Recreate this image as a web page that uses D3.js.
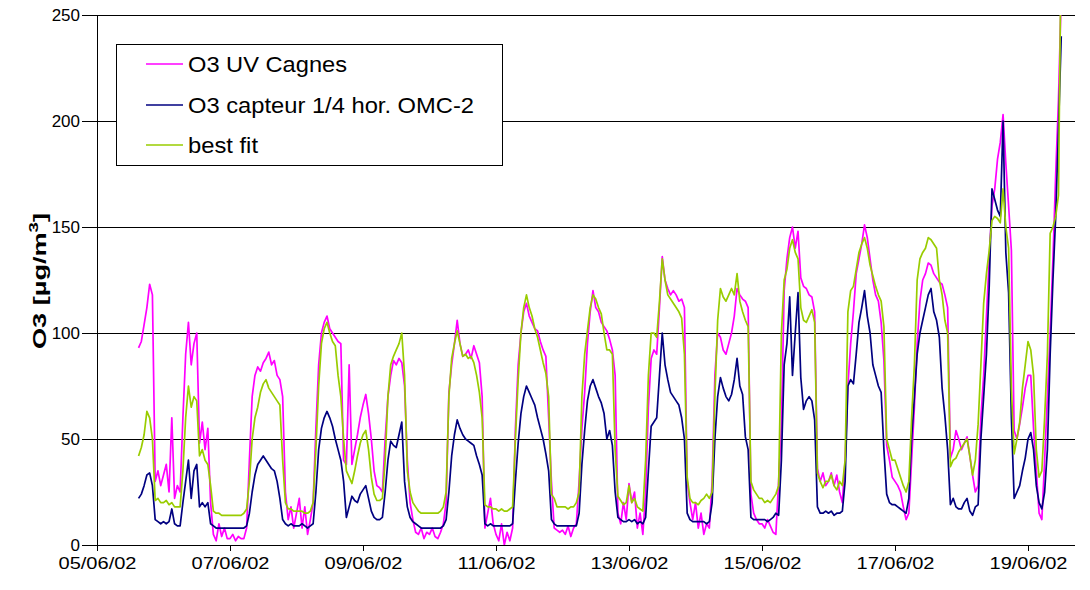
<!DOCTYPE html>
<html><head><meta charset="utf-8">
<script src="https://cdn.jsdelivr.net/npm/d3@7"></script>
<style>
body{margin:0;background:#fff}
svg{display:block}
text{font-family:"Liberation Sans",Arial,sans-serif;fill:#000}
</style>
</head><body><svg id="c" width="1090" height="590"></svg>
<script>
// ---- data (hourly readings, first at 05/06/02 15:00) ----
const startTime = [2002, 5, 5, 15];   // y, m(0-based), d, hour
const stepHours = 1;
const seriesNames = ["O3 UV Cagnes", "O3 capteur 1/4 hor. OMC-2", "best fit"];
const seriesColors = ["#ff00ff", "#000080", "#99cc00"];

const uvCagnes = [
  93, 96, 104, 112, 123, 118, 30, 35, 28,
  33, 38, 25, 60, 22, 28, 25, 60, 90, 105, 85, 95, 100, 48, 58, 45, 55, 20, 5, 2, 10, 4, 8, 3,
  3, 5, 2, 4, 3, 3, 8, 40, 70, 80, 84, 82, 86, 88, 91, 85, 87, 80, 78, 70, 25, 12, 18, 8,
  15, 22, 8, 18, 5, 12, 20, 55, 85, 100, 105, 108, 102, 100, 98, 96, 95, 40, 38, 85, 38, 45, 52, 60,
  66, 71, 62, 50, 35, 28, 27, 25, 50, 70, 80, 87, 85, 88, 86, 75, 40, 20, 12, 6, 5, 8, 3, 6,
  5, 8, 4, 3, 6, 10, 20, 72, 85, 95, 106, 95, 89, 90, 92, 88, 94, 90, 86, 70, 8, 15, 22, 10,
  5, 2, 10, 0, 6, 2, 8, 55, 85, 100, 110, 114, 108, 105, 102, 101, 96, 92, 89, 60, 30, 8, 7, 6,
  7, 5, 9, 4, 8, 10, 30, 55, 72, 95, 110, 120, 112, 110, 105, 103, 101, 97, 92, 80, 15, 10, 20, 12,
  29, 20, 25, 8, 15, 5, 25, 65, 88, 92, 90, 112, 136, 125, 121, 118, 120, 118, 115, 116, 112, 30, 20, 12,
  20, 8, 15, 5, 10, 8, 30, 80, 100, 98, 92, 90, 95, 100, 108, 121, 118, 116, 115, 112, 24, 15, 12, 10,
  10, 8, 12, 9, 6, 5, 30, 56, 120, 135, 145, 150, 140, 148, 126, 122, 121, 118, 117, 110, 36, 30, 34, 28,
  30, 34, 28, 33, 25, 20, 40, 75, 95, 110, 128, 135, 142, 151, 145, 135, 125, 118, 115, 105, 87, 47, 40, 32,
  30, 28, 25, 18, 12, 15, 40, 65, 95, 115, 125, 128, 133, 132, 128, 126, 124, 123, 118, 112, 41, 45, 54, 50,
  45, 48, 51, 42, 33, 25, 28, 60, 80, 108, 135, 160, 168, 182, 190, 203, 180, 160, 139, 54, 50, 57, 65, 74,
  80, 80, 55, 35, 15, 12, 40, 70, 100, 135, 175, 210, 260
];
const capteurOMC2 = [
  22, 24, 28, 33, 34, 28, 12, 11, 10,
  11, 10, 11, 17, 10, 9, 9, 20, 30, 40, 22, 35, 38, 18, 20, 18, 20, 10, 9, 8, 8, 8, 8, 8,
  8, 8, 8, 8, 8, 8, 9, 15, 25, 33, 38, 40, 42, 40, 38, 36, 35, 30, 22, 12, 10, 9, 10, 9,
  9, 9, 10, 9, 8, 9, 10, 25, 45, 55, 60, 63, 60, 56, 50, 45, 40, 30, 13, 18, 23, 21, 20, 24,
  26, 28, 22, 16, 13, 12, 12, 13, 25, 40, 49, 47, 46, 52, 58, 30, 18, 13, 11, 10, 9, 8, 8, 8,
  8, 8, 8, 8, 8, 9, 12, 25, 42, 52, 59, 55, 52, 50, 49, 48, 47, 42, 38, 33, 10, 9, 10, 9,
  9, 9, 9, 9, 9, 9, 10, 30, 48, 62, 70, 75, 72, 69, 66, 60, 55, 50, 43, 35, 12, 10, 9, 9,
  9, 9, 9, 9, 9, 9, 15, 38, 54, 68, 75, 78, 74, 70, 67, 62, 50, 54, 47, 25, 13, 12, 11, 11,
  12, 11, 12, 10, 11, 10, 13, 35, 56, 58, 60, 80, 100, 85, 78, 72, 70, 68, 66, 60, 50, 15, 12, 11,
  11, 11, 11, 11, 10, 11, 20, 50, 70, 79, 74, 70, 68, 71, 78, 88, 75, 71, 51, 45, 13, 12, 12, 12,
  12, 12, 11, 12, 13, 15, 14, 40, 85, 95, 117, 80, 100, 119, 79, 64, 68, 70, 68, 59, 18, 15, 15, 16,
  15, 16, 14, 15, 15, 16, 30, 75, 78, 76, 90, 105, 112, 120, 108, 100, 85, 80, 75, 72, 45, 24, 20, 19,
  19, 18, 17, 16, 15, 22, 50, 70, 90, 100, 106, 112, 118, 121, 110, 106, 98, 74, 61, 45, 19, 22, 18, 17,
  17, 20, 22, 16, 14, 18, 19, 50, 70, 90, 122, 168, 163, 158, 155, 200, 138, 119, 60, 22, 25, 28, 35, 41,
  50, 53, 45, 28, 20, 17, 25, 45, 90, 125, 155, 196, 240
];
const bestFit = [
  42, 46, 52, 63, 60, 50, 21, 22, 20,
  20, 21, 19, 20, 18, 18, 18, 35, 60, 75, 65, 70, 68, 42, 45, 40, 38, 28, 16, 15, 15, 14, 14, 14,
  14, 14, 14, 14, 14, 15, 17, 30, 50, 60, 65, 72, 76, 78, 74, 72, 70, 68, 66, 40, 20, 17, 17, 16,
  16, 16, 16, 15, 15, 16, 20, 45, 75, 95, 102, 105, 100, 96, 94, 80, 70, 50, 35, 32, 29, 35, 42, 48,
  52, 54, 45, 32, 24, 21, 21, 22, 40, 70, 85, 89, 92, 95, 100, 80, 35, 25, 20, 18, 16, 15, 15, 15,
  15, 15, 15, 15, 16, 18, 25, 70, 88, 95, 101, 95, 89, 90, 88, 89, 86, 80, 72, 60, 19, 18, 18, 17,
  17, 16, 17, 16, 16, 17, 18, 50, 78, 100, 112, 118, 112, 108, 102, 98, 92, 86, 81, 70, 24, 22, 18, 18,
  18, 18, 17, 18, 18, 20, 25, 70, 90, 101, 112, 118, 116, 112, 109, 100, 92, 92, 90, 45, 23, 21, 19, 20,
  28, 20, 22, 18, 17, 16, 40, 80, 100, 100, 98, 115, 135, 125, 118, 116, 114, 112, 110, 107, 90, 32, 22, 20,
  20, 19, 21, 22, 24, 22, 25, 70, 106, 121, 117, 115, 118, 121, 118, 128, 115, 110, 106, 103, 30, 26, 24, 22,
  22, 20, 21, 20, 22, 24, 28, 100, 125, 130, 140, 144, 138, 135, 112, 106, 105, 108, 111, 105, 34, 30, 27, 30,
  30, 33, 28, 26, 30, 28, 40, 110, 120, 122, 130, 138, 142, 145, 140, 132, 127, 122, 118, 115, 103, 50, 45, 40,
  40, 36, 32, 28, 25, 30, 60, 85, 125, 135, 138, 140, 145, 144, 142, 140, 125, 118, 106, 100, 37, 40, 41, 44,
  46, 48, 50, 42, 33, 40, 57, 85, 114, 128, 139, 153, 155, 154, 152, 168, 150, 140, 74, 43, 50, 58, 74, 85,
  96, 92, 80, 45, 32, 35, 60, 90, 147, 150, 155, 165, 290
];

const yTicks = [0, 50, 100, 150, 200, 250];
const xTickDays = [5, 7, 9, 11, 13, 15, 17, 19];   // June 2002
const yTitle = "O3 [µg/m";

// ---- layout ----
const plotLeft = 97, plotRight = 1075, plotTop = 15, plotBottom = 545;
const svg = d3.select("#c");
svg.append("rect").attr("width", 1090).attr("height", 590).attr("fill", "#fff");

const x = d3.scaleTime()
  .domain([new Date(2002, 5, 5), new Date(2002, 5, 19)])
  .range([plotLeft, 1028]);
const y = d3.scaleLinear().domain([0, 250]).range([plotBottom, plotTop]);

const timeAt = i => new Date(startTime[0], startTime[1], startTime[2], startTime[3] + i * stepHours);

// gridlines
svg.append("g").selectAll("line")
  .data(yTicks.filter(v => v > 0))
  .join("line")
  .attr("x1", plotLeft).attr("x2", plotRight)
  .attr("y1", d => Math.round(y(d)) + 0.5).attr("y2", d => Math.round(y(d)) + 0.5)
  .attr("stroke", "#000").attr("stroke-width", 1);

// clip
svg.append("clipPath").attr("id", "clip").append("rect")
  .attr("x", plotLeft).attr("y", plotTop).attr("width", plotRight - plotLeft).attr("height", plotBottom - plotTop);

const line = d3.line().x((d, i) => x(timeAt(i))).y(d => y(d));
const seriesData = [uvCagnes, capteurOMC2, bestFit];
const lg = svg.append("g").attr("clip-path", "url(#clip)");
seriesData.forEach((s, k) => {
  lg.append("path").datum(s).attr("d", line)
    .attr("fill", "none").attr("stroke", seriesColors[k])
    .attr("stroke-width", 1.7).attr("stroke-linejoin", "round");
});

// y axis
const ya = svg.append("g").attr("transform", `translate(${plotLeft},0)`)
  .call(d3.axisLeft(y).tickValues(yTicks).tickSize(15).tickPadding(2));
ya.select(".domain").attr("stroke", "#000");
ya.selectAll(".tick line").attr("stroke", "#000");
ya.selectAll(".tick text").attr("font-size", 17).attr("font-family", "Liberation Sans, Arial, sans-serif").attr("fill", "#000");

// x axis
const xa = svg.append("g").attr("transform", `translate(0,${plotBottom})`)
  .call(d3.axisBottom(x)
    .tickValues(xTickDays.map(d => new Date(2002, 5, d)))
    .tickFormat(d3.timeFormat("%d/%m/%y"))
    .tickSize(6).tickPadding(6));
xa.select(".domain").remove();
xa.selectAll(".tick line").attr("stroke", "#000");
xa.selectAll(".tick text").attr("font-size", 17).attr("font-family", "Liberation Sans, Arial, sans-serif")
  .attr("fill", "#000").attr("textLength", 78).attr("lengthAdjust", "spacingAndGlyphs");
svg.append("line").attr("x1", plotLeft).attr("x2", plotRight)
  .attr("y1", plotBottom + 0.5).attr("y2", plotBottom + 0.5).attr("stroke", "#000");

// y title
const yt = svg.append("text")
  .attr("transform", "translate(46,281) rotate(-90)")
  .attr("text-anchor", "middle").attr("font-weight", "bold").attr("font-size", 19)
  .attr("textLength", 136).attr("lengthAdjust", "spacingAndGlyphs");
yt.append("tspan").text(yTitle);
yt.append("tspan").attr("dy", -8).attr("font-size", 13).text("3");
yt.append("tspan").attr("dy", 8).text("]");

// legend
const leg = svg.append("g");
leg.append("rect").attr("x", 116.5).attr("y", 44.5).attr("width", 386).attr("height", 121)
  .attr("fill", "#fff").attr("stroke", "#000");
const legY = [64, 105, 145];
const legLen = [159, 286, 70];
seriesNames.forEach((n, k) => {
  leg.append("line").attr("x1", 146).attr("x2", 183).attr("y1", legY[k]).attr("y2", legY[k])
    .attr("stroke", seriesColors[k]).attr("stroke-width", 1.7);
  leg.append("text").attr("x", 188).attr("y", legY[k] + 8).attr("font-size", 22)
    .attr("textLength", legLen[k]).attr("lengthAdjust", "spacingAndGlyphs").text(n);
});
</script>
</body></html>
